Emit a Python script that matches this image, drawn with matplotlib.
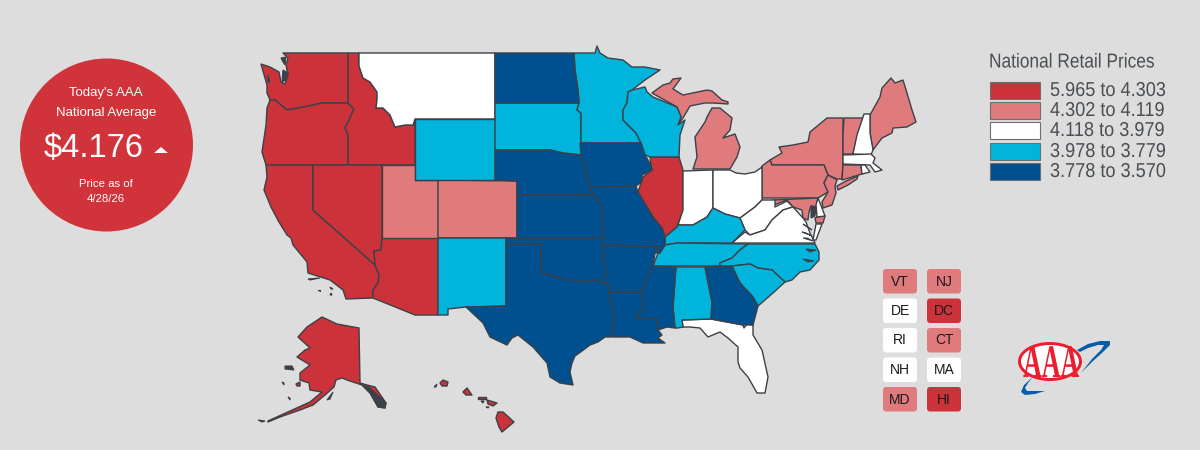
# -*- coding: utf-8 -*-
# AAA national retail gas prices map, outlines
import matplotlib
matplotlib.use("Agg")
import matplotlib.pyplot as plt
from matplotlib.patches import Polygon, Circle, Ellipse, FancyBboxPatch, Rectangle
from matplotlib.patheffects import AbstractPathEffect
from matplotlib.transforms import Affine2D

BG = "#DDDDDD"
EDGE = "#3C4147"
TEXT_GRAY = "#4A4F54"


# text is drawn squeezed, no narrow font is installed
class Squeeze(AbstractPathEffect):
    def __init__(self, sx=1.0, sy=1.0):
        super().__init__()
        self.sx = sx
        self.sy = sy

    def draw_path(self, renderer, gc, tpath, affine, rgbFace=None):
        renderer.draw_path(gc, tpath, Affine2D().scale(self.sx, self.sy) + affine, rgbFace)


# price bins
bin_labels = ["5.965 to 4.303", "4.302 to 4.119", "4.118 to 3.979", "3.978 to 3.779", "3.778 to 3.570"]
bin_colors = ["#CC3239", "#DF7A7D", "#FFFFFF", "#00B4DC", "#00508F"]

# states in each bin
bin0 = ["WA", "OR", "ID", "CA", "NV", "AZ", "IL", "AK", "HI", "HI2", "HI3", "HI4", "HI5", "AK2"]
bin1 = ["UT", "CO", "MI", "MI2", "NY", "LI", "PA", "VT", "ME", "NJ", "CT", "MD", "MD2"]
bin2 = ["MT", "IN", "OH", "WV", "VA", "VA2", "FL", "DE", "NH", "MA", "RI"]
bin3 = ["WY", "SD", "MN", "WI", "NM", "KY", "TN", "NC", "SC", "AL"]
bin4 = ["ND", "NE", "KS", "OK", "TX", "IA", "MO", "AR", "LA", "MS", "GA"]

# small-state boxes
box_col1 = ["VT", "DE", "RI", "NH", "MD"]
box_col2 = ["NJ", "DC", "CT", "MA", "HI"]
box_bin1 = [1, 2, 2, 2, 1]
box_bin2 = [1, 0, 1, 2, 0]

# badge
badge_title = ["Today's AAA", "National Average"]
badge_price = "$4.176"
badge_date = ["Price as of", "4/28/26"]

# state outlines in picture pixels
outlines = {
    "WA": [(283,53),(348,53),(348,103),(322,103),(304,107),(287,110),(281,105),(275,100),(270,100),(267,93),(267,85),(261,64),(270,67),(279,72),(281,82),(285,84),(288,75),(286,65),(288,58)],
    "OR": [(270,100),(275,100),(281,105),(287,110),(304,107),(322,103),(348,103),(354,109),(349,120),(345,128),(348,135),(348,165),(266,165),(262,152),(266,125),(267,108)],
    "ID": [(348,53),(359,53),(359,66),(363,78),(370,82),(377,92),(377,100),(376,108),(383,108),(390,115),(395,127),(405,125),(413,125),(415,119),(415,165),(348,165),(348,135),(345,128),(349,120),(354,109),(348,103)],
    "MT": [(359,53),(495,53),(495,119),(415,119),(413,125),(405,125),(395,127),(390,115),(383,108),(376,108),(377,100),(377,92),(370,82),(363,78),(359,66)],
    "WY": [(415,119),(495,119),(495,180),(415,180)],
    "UT": [(382,165),(415,165),(415,180),(438,180),(438,238),(382,238)],
    "CO": [(438,180),(517,181),(517,238),(438,238)],
    "NV": [(313,165),(382,165),(382,238),(381,250),(374,251),(375,265),(313,210)],
    "CA": [(266,165),(313,165),(313,210),(375,265),(379,275),(378,283),(373,290),(373,298),(346,299),(343,290),(330,280),(308,273),(307,262),(293,245),(291,238),(287,235),(279,222),(271,207),(264,190),(267,177)],
    "AZ": [(382,238),(438,238),(438,315),(415,315),(373,298),(373,290),(378,283),(379,275),(375,265),(374,251),(381,250)],
    "NM": [(438,238),(506,238),(506,306),(466,307),(448,309),(448,315),(438,315)],
    "TX": [(506,244),(541,244),(541,272),(560,278),(583,282),(597,280),(608,285),(609,292),(614,317),(613,330),(611,337),(605,337),(598,342),(590,345),(582,351),(575,356),(572,363),(570,372),(573,385),(560,383),(550,377),(547,363),(540,355),(533,347),(518,335),(512,338),(507,345),(490,337),(483,323),(466,307),(506,306)],
    "OK": [(506,238),(603,238),(604,245),(605,283),(608,285),(597,280),(583,282),(560,278),(541,272),(541,244),(506,244)],
    "KS": [(517,195),(593,195),(598,200),(602,207),(603,238),(517,238)],
    "NE": [(495,150),(550,150),(563,153),(581,155),(585,170),(590,187),(593,195),(517,195),(517,181),(495,180)],
    "SD": [(495,103),(579,103),(577,110),(581,113),(581,155),(563,153),(550,150),(495,150)],
    "ND": [(495,53),(574,53),(575,70),(578,90),(579,103),(495,103)],
    "MN": [(574,53),(595,53),(597,46),(600,53),(608,58),(623,60),(632,67),(645,67),(660,70),(645,80),(632,90),(628,92),(627,103),(623,110),(623,120),(636,133),(641,143),(581,143),(581,113),(577,110),(579,103),(578,90),(575,70)],
    "WI": [(628,92),(632,90),(645,87),(647,92),(653,97),(677,107),(681,117),(678,125),(685,120),(680,135),(679,157),(650,157),(645,155),(641,143),(636,133),(623,120),(623,110),(627,103)],
    "MI": [(652,93),(663,85),(670,83),(673,79),(681,78),(673,89),(683,95),(707,90),(712,91),(722,100),(728,102),(728,104),(713,103),(705,103),(690,106),(683,118),(678,125),(681,117),(677,107)],
    "MI2": [(712,108),(720,108),(732,118),(730,130),(723,138),(735,134),(740,147),(737,157),(730,169),(693,169),(697,157),(695,137),(705,122),(707,117)],
    "IA": [(580,143),(641,143),(645,155),(651,165),(652,170),(642,175),(642,182),(636,186),(590,187),(585,170),(581,155)],
    "MO": [(590,187),(636,186),(638,192),(653,217),(662,228),(665,237),(665,245),(660,253),(655,253),(659,247),(604,245),(603,238),(602,207),(598,200),(593,195)],
    "IL": [(650,157),(679,157),(683,170),(683,210),(677,227),(665,237),(662,228),(653,217),(638,192),(643,177),(652,170),(651,165)],
    "IN": [(683,171),(713,170),(713,208),(707,217),(693,225),(678,225),(683,210)],
    "OH": [(713,170),(730,170),(736,173),(745,174),(755,172),(762,167),(762,200),(755,207),(740,218),(725,214),(713,208)],
    "KY": [(678,225),(693,225),(707,217),(713,208),(725,214),(740,218),(745,230),(732,243),(677,243),(665,245),(665,237),(677,227)],
    "WV": [(762,200),(775,200),(775,207),(787,201),(793,207),(783,210),(772,220),(765,230),(750,235),(745,230),(740,218),(755,207)],
    "VA": [(732,243),(745,232),(750,235),(765,230),(772,220),(783,210),(793,207),(803,218),(806,222),(810,233),(815,243)],
    "VA2": [(816,224),(822,224),(816,240),(813,240)],
    "TN": [(665,245),(677,243),(748,244),(740,250),(732,258),(720,263),(720,266),(653,266),(658,253),(660,253)],
    "NC": [(748,244),(815,244),(819,252),(819,260),(810,270),(800,272),(792,280),(785,282),(772,270),(758,268),(750,264),(732,266),(720,266),(720,263),(732,258),(740,250)],
    "SC": [(732,266),(750,264),(758,268),(772,270),(785,282),(773,293),(758,306),(753,297),(740,283)],
    "GA": [(705,267),(732,266),(740,283),(753,297),(758,306),(753,325),(743,325),(711,319),(712,302)],
    "AL": [(676,267),(705,267),(712,302),(711,319),(682,320),(683,327),(678,328),(675,328),(673,307)],
    "MS": [(653,266),(676,267),(673,307),(675,328),(667,327),(658,330),(657,319),(636,318),(644,305),(642,292),(647,277)],
    "LA": [(609,292),(642,292),(644,305),(636,318),(657,319),(658,330),(662,335),(658,338),(665,343),(655,343),(643,343),(630,337),(612,337),(613,330),(614,317)],
    "AR": [(604,245),(659,247),(655,253),(653,266),(647,277),(642,292),(609,292),(608,285),(605,283)],
    "FL": [(682,320),(711,319),(743,325),(744,328),(747,324),(753,325),(753,335),(762,350),(768,377),(765,393),(757,393),(748,377),(740,368),(738,362),(738,347),(728,338),(720,332),(708,337),(700,328),(690,327),(683,327)],
    "PA": [(762,166),(770,160),(772,165),(824,165),(828,175),(824,183),(828,192),(818,198),(762,198)],
    "NY": [(772,165),(770,160),(782,153),(779,147),(793,145),(808,142),(810,132),(827,118),(843,118),(843,135),(843,166),(842,179),(837,179),(828,175),(824,165)],
    "LI": [(837,186),(846,181),(858,176),(857,179),(848,185),(838,190)],
    "NJ": [(828,175),(837,180),(835,186),(836,193),(832,205),(823,208),(822,202),(828,192),(824,183)],
    "MD": [(773,200),(818,198),(816,207),(811,206),(809,212),(808,220),(803,218),(802,210),(793,207),(787,200),(774,205)],
    "MD2": [(815,218),(817,217),(825,216),(823,223),(816,223)],
    "DE": [(818,198),(822,208),(825,216),(817,217),(816,205)],
    "VT": [(844,118),(865,118),(857,137),(853,154),(843,154),(843,135)],
    "NH": [(864,114),(870,114),(870,133),(873,150),(871,155),(853,154),(857,135)],
    "ME": [(870,115),(880,97),(882,88),(891,78),(895,83),(903,80),(907,93),(912,110),(916,122),(907,127),(893,128),(892,133),(882,138),(873,150),(870,133)],
    "MA": [(843,155),(871,154),(875,158),(873,163),(882,170),(875,172),(870,165),(843,164)],
    "RI": [(861,165),(865,165),(870,172),(862,174)],
    "CT": [(843,165),(861,165),(862,174),(842,180)],
    "AK": [(322,317),(337,324),(359,328),(360,383),(367,385),(375,387),(386,403),(385,408),(378,407),(370,393),(362,385),(347,380),(342,378),(336,380),(334,387),(325,395),(313,405),(300,410),(280,417),(268,422),(268,421),(290,411),(310,402),(322,392),(310,390),(309,383),(300,380),(300,373),(310,365),(297,357),(305,350),(310,348),(298,337),(307,327)],
    "AK2": [(296,384),(300,382),(300,386),(297,386)],
    "HI": [(496,418),(498,412),(503,412),(514,422),(502,432),(499,427)],
    "HI2": [(487,400),(497,403),(493,406),(488,404)],
    "HI3": [(463,392),(467,388),(472,395),(466,395)],
    "HI4": [(478,397),(486,397),(486,399),(478,399)],
    "HI5": [(440,383),(443,380),(448,382),(447,386),(442,386)],
}
# bits of coast too small to show any fill
dark_bits = [
    [(362,385),(369,387),(386,403),(385,408),(378,407),(370,393)],
    [(285,366),(292,366),(294,370),(285,369)],
    [(327,400),(333,392),(330,399)],
    [(434,387),(437,384),(436,387)],
    [(308,279),(320,278),(310,280)],
    [(318,290),(320,290),(320,291)],
    [(330,287),(333,289),(331,289)],
    [(331,293),(332,295),(330,295)],
    [(282,382),(284,383),(284,385)],
    [(288,397),(290,398),(290,400)],
    [(258,420),(265,421),(262,422)],
    [(281,58),(286,57),(285,65),(283,62)],
    [(283,70),(288,73),(286,80),(282,82)],
    [(481,401),(484,401),(483,403)],
    [(486,407),(489,407),(488,408)],
    [(268,75),(270,82),(268,82)],
    [(803,224),(812,230),(806,226)],
    [(802,232),(812,236),(806,233)],
    [(803,238),(813,241),(807,238)],
    [(806,249),(816,250),(810,252)],
    [(803,259),(814,261),(808,262)],
    [(811,206),(816,207),(815,216),(811,218)],
]

fig = plt.figure(figsize=(12, 4.5), dpi=100, facecolor=BG)
ax = fig.add_axes([0, 0, 1, 1])
ax.set_xlim(0, 1200)
ax.set_ylim(450, 0)
ax.axis("off")

# map
for bin_states, color in zip([bin0, bin1, bin2, bin3, bin4], bin_colors):
    for st in bin_states:
        ax.add_patch(Polygon(outlines[st], closed=True, fc=color, ec=EDGE, lw=1.0, joinstyle="round"))
for pts in dark_bits:
    ax.add_patch(Polygon(pts, closed=True, fc=EDGE, ec=EDGE, lw=0.8))

# badge
sans = ["Liberation Sans", "DejaVu Sans"]
ax.add_patch(Circle((106.5, 145), 86.5, fc="#D1333A", ec="none"))
ax.text(106, 93, badge_title[0], color="white", fontsize=9.5, ha="center", va="center", family=sans)
ax.text(106, 113, badge_title[1], color="white", fontsize=9.5, ha="center", va="center", family=sans)
ax.text(94, 149, badge_price, color="white", fontsize=23.5, ha="center", va="center", family=sans)
ax.add_patch(Polygon([(154, 153), (161, 147), (168, 153)], closed=True, fc="white", ec="none"))
ax.text(106, 184, badge_date[0], color="white", fontsize=8.2, ha="center", va="center", family=sans)
ax.text(106, 199, badge_date[1], color="white", fontsize=8.2, ha="center", va="center", family=sans)

# legend
ax.text(989, 62, "National Retail Prices", color=TEXT_GRAY, fontsize=14.5, ha="left", va="center", family=sans,
        path_effects=[Squeeze(0.86)])
swatch_tops = [82, 102, 122, 143, 163]
for top, lab, color in zip(swatch_tops, bin_labels, bin_colors):
    ax.add_patch(Rectangle((990, top), 50, 17, fc=color, ec="#6E6E6E", lw=0.8))
    ax.text(1050, top + 8.5, lab, color=TEXT_GRAY, fontsize=14.5, ha="left", va="center", family=sans,
            path_effects=[Squeeze(0.9)])

# small-state boxes
for col_x, names, bins in [(883, box_col1, box_bin1), (927, box_col2, box_bin2)]:
    for i, (name, b) in enumerate(zip(names, bins)):
        y = 269 + i * 29.5
        ax.add_patch(FancyBboxPatch((col_x + 3, y + 3), 28, 18.5, boxstyle="round,pad=3", fc=bin_colors[b], ec="none"))
        ax.text(col_x + 17, y + 12.5, name, color="#1A1A1A", fontsize=10, ha="center", va="center", family=sans)

# AAA logo
swoosh_low = [(1033,377),(1024,385),(1021,392),(1025,395),(1035,394),(1045,391),(1033,391),(1027,391),(1025,388),(1028,383)]
swoosh_high = [(1077,350),(1088,344),(1100,341),(1110,341),(1110,345),(1103,352),(1093,361),(1081,373),(1092,359),(1101,350),(1104,345),(1098,345),(1088,348),(1080,352)]
ax.add_patch(Polygon(swoosh_low, closed=True, fc="#0A5CA8", ec="none"))
ax.add_patch(Polygon(swoosh_high, closed=True, fc="#0A5CA8", ec="none"))
ax.add_patch(Ellipse((1050, 361.5), 64, 39, fc="#ED1C2E", ec="none"))
ax.add_patch(Ellipse((1050, 361.5), 58, 33, fc="white", ec="none"))
logo = Ellipse((1050, 361.5), 64, 39, fc="none", ec="none")
ax.add_patch(logo)
logo_text = ax.text(1023, 377, "AAA", color="#ED1C2E", fontsize=24, fontweight="bold", ha="left", va="baseline",
                    family=["Liberation Serif", "DejaVu Serif"], path_effects=[Squeeze(0.78, 1.4)])
logo_text.set_clip_path(logo)

fig.savefig("out.png", dpi=100, facecolor=BG)
